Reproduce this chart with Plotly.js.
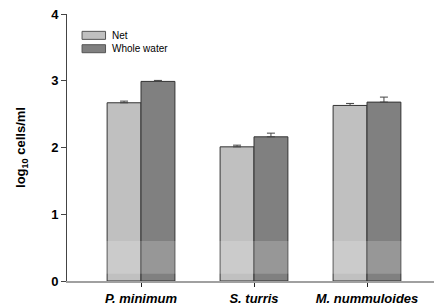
<!DOCTYPE html>
<html>
<head>
<meta charset="utf-8">
<script src="https://cdn.plot.ly/plotly-3.0.1.min.js"></script>
<style>html,body{margin:0;padding:0;background:#fff;}#chart{width:434px;height:305px;}</style>
</head>
<body>
<div id="chart"></div>
<script>
var categories = ["P. minimum", "S. turris", "M. nummuloides"];
var tickLabels = ["<i>P. minimum</i>", "<i>S. turris</i>", "<i>M. nummuloides</i>"];
var netValues = [2.67, 2.01, 2.63];
var netErrors = [0.025, 0.025, 0.03];
var wholeValues = [2.99, 2.16, 2.68];
var wholeErrors = [0.015, 0.055, 0.075];
var seriesNames = ["Net", "Whole water"];
var yTicks = [0, 1, 2, 3, 4];

var font = "Arial, 'Liberation Sans', sans-serif";
var netColor = "#c0c0c0", wholeColor = "#808080";

function zeros(n){ var a=[]; for (var i=0;i<n;i++) a.push(0); return a; }

var traces = [
  {
    type: "bar", name: seriesNames[0], x: categories, y: netValues,
    marker: {color: netColor, line: {color: "#333333", width: 1}},
    error_y: {type: "data", symmetric: false, array: netErrors, arrayminus: zeros(netErrors.length),
              color: "#444444", thickness: 1, width: 4},
    showlegend: false
  },
  {
    type: "bar", name: seriesNames[1], x: categories, y: wholeValues,
    marker: {color: wholeColor, line: {color: "#333333", width: 1}},
    error_y: {type: "data", symmetric: false, array: wholeErrors, arrayminus: zeros(wholeErrors.length),
              color: "#444444", thickness: 1, width: 4},
    showlegend: false
  }
];

var layout = {
  width: 434, height: 305,
  margin: {l: 67, r: 0, t: 14, b: 24},
  paper_bgcolor: "#ffffff", plot_bgcolor: "#ffffff",
  barmode: "group", bargap: 0.4, bargroupgap: 0,
  font: {family: font, color: "#000"},
  showlegend: false,
  xaxis: {
    type: "category", range: [-0.655, 2.593],
    tickvals: categories, ticktext: tickLabels,
    ticks: "outside", ticklen: 4, tickcolor: "#222", tickwidth: 1,
    tickfont: {family: font, size: 13, color: "#000", weight: "bold"},
    showline: true, linecolor: "#a0a0a0", linewidth: 2,
    showgrid: false, zeroline: false, fixedrange: true
  },
  yaxis: {
    range: [0, 4], tickvals: yTicks, ticktext: yTicks.map(String),
    ticks: "outside", ticklen: 5, tickcolor: "#444", tickwidth: 1,
    tickfont: {family: font, size: 13, color: "#000", weight: "bold"},
    showline: true, linecolor: "#444", linewidth: 1,
    showgrid: false, zeroline: false, fixedrange: true,
    title: {text: "log<sub>10</sub> cells/ml", font: {family: font, size: 13, color: "#000", weight: "bold"}, standoff: 22}
  },
  shapes: [
    {type: "rect", xref: "paper", yref: "y", x0: 0, x1: 1, y0: 0.11, y1: 0.6,
     fillcolor: "rgba(255,255,255,0.18)", line: {width: 0}, layer: "above"},
    {type: "rect", xref: "paper", yref: "paper", x0: 0.041, x1: 0.105, y0: 0.905, y1: 0.935,
     fillcolor: netColor, line: {color: "#555", width: 1}},
    {type: "rect", xref: "paper", yref: "paper", x0: 0.041, x1: 0.105, y0: 0.855, y1: 0.885,
     fillcolor: wholeColor, line: {color: "#555", width: 1}}
  ],
  annotations: [
    {xref: "paper", yref: "paper", x: 0.118, y: 0.92, xanchor: "left", yanchor: "middle",
     text: seriesNames[0], showarrow: false, font: {family: font, size: 10, color: "#000"}},
    {xref: "paper", yref: "paper", x: 0.118, y: 0.87, xanchor: "left", yanchor: "middle",
     text: seriesNames[1], showarrow: false, font: {family: font, size: 10, color: "#000"}}
  ]
};

Plotly.newPlot("chart", traces, layout, {displayModeBar: false, staticPlot: true});
</script>
</body>
</html>
